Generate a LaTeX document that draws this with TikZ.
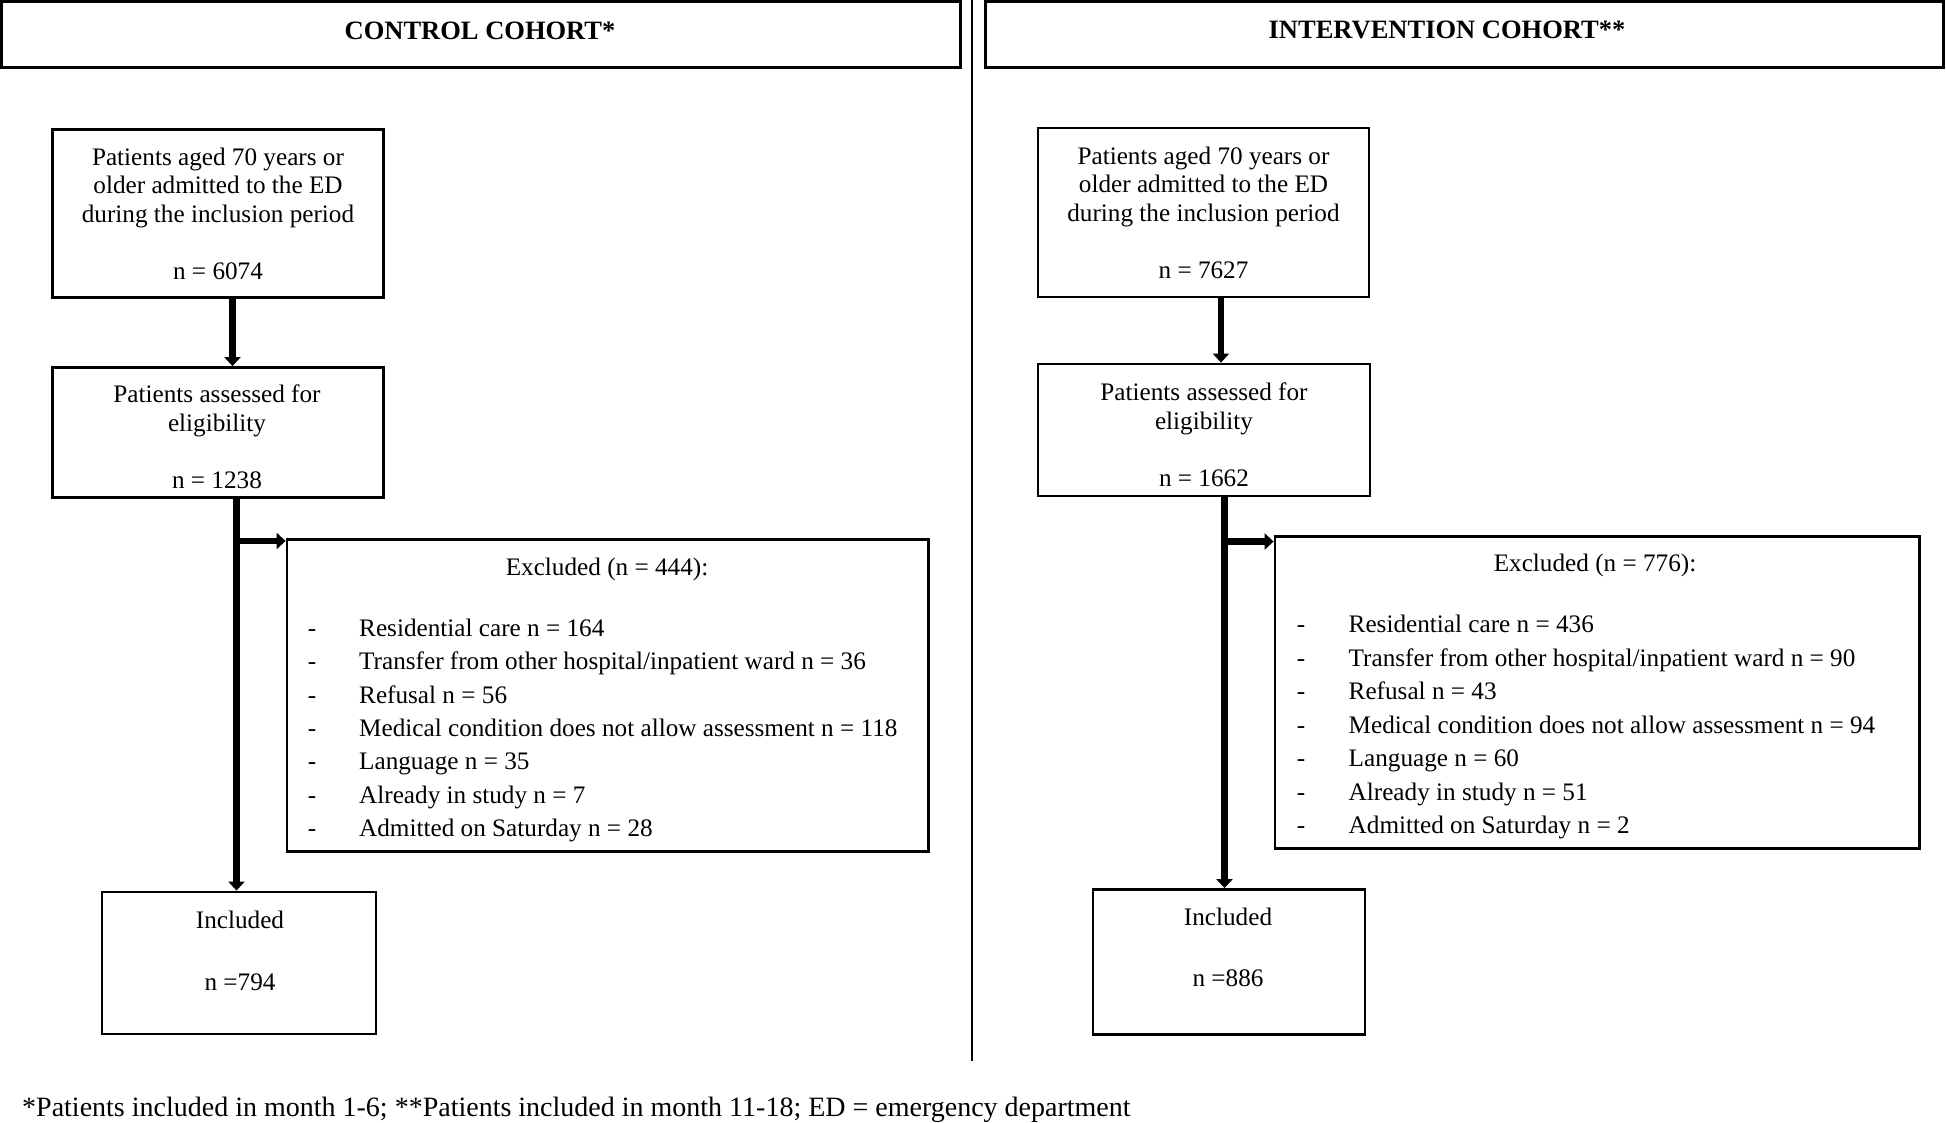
\documentclass[tikz,border=0pt]{standalone}
\usepackage{fontspec}
\setmainfont{Liberation Serif}
\usetikzlibrary{arrows.meta}
\newcommand\boxfont{\fontsize{25.2}{28.5}\selectfont}
\newcommand\notefont{\fontsize{28}{32}\selectfont}
\newcommand\headfont{\fontsize{26.5}{30}\selectfont\bfseries}
\begin{document}
\begin{tikzpicture}[x=1pt,y=-1pt,
  hbox/.style={draw, line width=2.8pt, inner sep=0pt},
  box/.style={draw, line width=2.8pt, inner sep=0pt, align=center, font=\boxfont},
  txt/.style={inner sep=0pt, align=center, font=\boxfont},
  htext/.style={inner sep=0pt, font=\headfont},
  arr/.style={line width=6.5pt, -{Triangle[length=9pt,width=16pt]}},
  divider/.style={line width=2.7pt}]
\useasboundingbox (0,0) rectangle (1946,1123);

% headers
\node[hbox, minimum width=959pt, minimum height=66pt] (hc) at (481,34.5) {};
\node[hbox, minimum width=958pt, minimum height=66pt] (hi) at (1464.5,34.5) {};
\node[htext] (hct) at (480,31) {CONTROL COHORT*};
\node[htext] (hit) at (1447,30) {INTERVENTION COHORT**};

% divider
\coordinate (dt) at (972,0);
\coordinate (db) at (972,1061);
\draw[divider] (dt) -- (db);

% control cohort
\node[box, minimum width=331pt, minimum height=168pt] (a1) at (218,213.5)
  {Patients aged 70 years or\\older admitted to the ED\\during the inclusion period\\[28.5pt]n = 6074};
\node[box, minimum width=331pt, minimum height=130pt] (a2) at (218,432.5) {};
\node[txt] (a2t) at (217,436.5) {Patients assessed for\\eligibility\\[28.5pt]n = 1238};
\node[box, minimum width=641.5pt, minimum height=312pt] (a3) at (607.75,695.5) {};
\node[box, minimum width=274pt, minimum height=142pt] (a4) at (239,963) {};
\node[txt] (a4t) at (240,950.5) {Included\\[33.5pt]n =794};
\node[txt] (a3t) at (607,569.5) {Excluded (n = 444):};
\foreach \t [count=\i] in {Residential care n = 164,
    Transfer from other hospital/inpatient ward n = 36,
    Refusal n = 56,
    Medical condition does not allow assessment n = 118,
    Language n = 35,
    Already in study n = 7,
    Admitted on Saturday n = 28}{
  \node[txt, anchor=base] (a3d\i) at (312,{636.5+(\i-1)*33.3}) {-};
  \node[txt, anchor=base west] (a3i\i) at (359,{636.5+(\i-1)*33.3}) {\t};
}
\coordinate (ca) at (232.5,0);
\coordinate (ma) at (236.5,0);
\coordinate (ba) at (0,541);
\draw[arr] (a1.south -| ca) -- (a2.north -| ca);
\draw[arr] (a2.south -| ma) -- (a4.north -| ma);
\draw[arr] (ma |- ba) -- (a3.west |- ba);

% intervention cohort
\node[box, minimum width=331pt, minimum height=169pt] (b1) at (1203.5,212.5)
  {Patients aged 70 years or\\older admitted to the ED\\during the inclusion period\\[28.5pt]n = 7627};
\node[box, minimum width=332pt, minimum height=132pt] (b2) at (1204,430) {};
\node[txt] (b2t) at (1204,434.5) {Patients assessed for\\eligibility\\[28.5pt]n = 1662};
\node[box, minimum width=644.5pt, minimum height=312pt] (b3) at (1597.25,692.5) {};
\node[box, minimum width=272pt, minimum height=145pt] (b4) at (1229,962) {};
\node[txt] (b4t) at (1228,947) {Included\\[32.5pt]n =886};
\node[txt] (b3t) at (1595,565.5) {Excluded (n = 776):};
\foreach \t [count=\i] in {Residential care n = 436,
    Transfer from other hospital/inpatient ward n = 90,
    Refusal n = 43,
    Medical condition does not allow assessment n = 94,
    Language n = 60,
    Already in study n = 51,
    Admitted on Saturday n = 2}{
  \node[txt, anchor=base] (b3d\i) at (1301,{632.5+(\i-1)*33.5}) {-};
  \node[txt, anchor=base west] (b3i\i) at (1348.5,{632.5+(\i-1)*33.5}) {\t};
}
\coordinate (cb) at (1221,0);
\coordinate (mb) at (1224.5,0);
\coordinate (bb) at (0,541.5);
\draw[arr] (b1.south -| cb) -- (b2.north -| cb);
\draw[arr] (b2.south -| mb) -- (b4.north -| mb);
\draw[arr] (mb |- bb) -- (b3.west |- bb);

% footnote
\node[inner sep=0pt, font=\notefont, anchor=base west] (fn) at (22,1116)
  {*Patients included in month 1-6; **Patients included in month 11-18; ED = emergency department};
\end{tikzpicture}
\end{document}
